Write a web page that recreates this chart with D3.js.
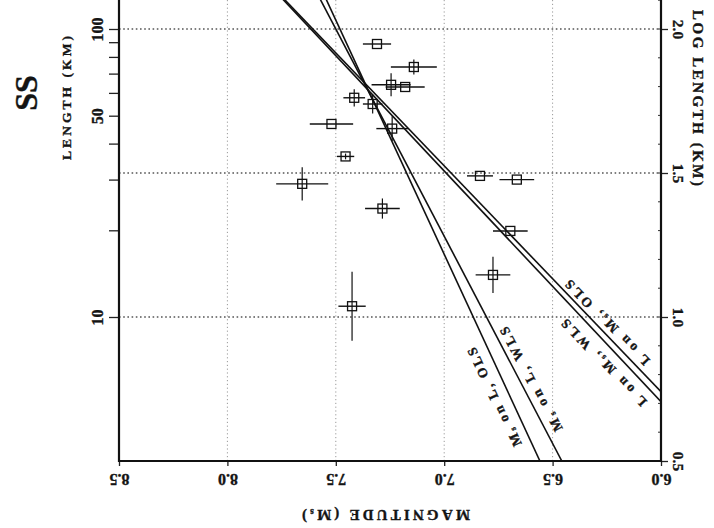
<!DOCTYPE html>
<html>
<head>
<meta charset="utf-8">
<script src="https://cdn.jsdelivr.net/npm/d3@7"></script>
<style>
  html, body { margin: 0; padding: 0; background: #fff; }
  svg { display: block; }
  text { font-family: "Liberation Serif", "DejaVu Serif", serif; font-weight: bold; fill: #141414;
         stroke: #141414; stroke-width: 0.35px; }
</style>
</head>
<body>
<svg id="chart" width="714" height="528"></svg>
<script>
// Strike-slip (SS) events: surface rupture length vs. surface-wave magnitude
const magnitude      = [7.31, 7.14, 7.245, 7.18, 7.415, 7.33, 7.52, 7.24, 7.455, 7.655, 7.285, 7.425, 6.835, 6.665, 6.695, 6.775];
const lengthKm       = [88.7, 73.8, 64.0, 62.9, 57.7, 54.9, 46.8, 45.1, 36.1, 29.0, 23.8, 10.9, 30.9, 30.0, 19.9, 14.0];
const magnitudeError = [0.065, 0.106, 0.09, 0.09, 0.05, 0.045, 0.10, 0.073, 0.04, 0.12, 0.08, 0.063, 0.06, 0.08, 0.08, 0.08];
const logLengthError = [0, 0.026, 0.04, 0, 0.03, 0.033, 0, 0.043, 0.01, 0.058, 0.035, 0.12, 0, 0, 0, 0.063];

// Regression fits. "LonM": log L = a + b*Ms ; "MonL": Ms = a + b*log L
const fitLabels    = ["L on Ms, OLS", "L on Ms, WLS", "Ms on L, OLS", "Ms on L, WLS"];
const fitKind      = ["LonM", "LonM", "MonL", "MonL"];
const fitIntercept = [-3.963, -4.10, 6.251, 6.11];
const fitSlope     = [0.784, 0.801, 0.615, 0.695];

// Axis ticks
const magnitudeTicks   = [6.0, 6.5, 7.0, 7.5, 8.0, 8.5];
const magnitudeGrid    = [6.5, 7.0, 7.5, 8.0];
const lengthTicks      = [10, 20, 30, 40, 50, 60, 70, 80, 90, 100];
const lengthTickLabels = [10, 50, 100];
const logLengthTicks   = [0.5, 1.0, 1.5, 2.0];
const logLengthGrid    = [1.0, 1.5, 2.0];

const svg = d3.select("#chart");

// Plot frame: magnitude decreases left to right; the upper part runs past the top edge
const left = 119, right = 661, bottom = 461, perHalfDecade = 144;
const x = d3.scaleLinear().domain([8.5, 6.0]).range([left, right]);
const yLog = d3.scaleLinear().domain([0.5, 2.5]).range([bottom, bottom - 4 * perHalfDecade]);
const yLen = d3.scaleLog().domain([Math.pow(10, 0.5), Math.pow(10, 2.5)]).range(yLog.range());

svg.append("defs").append("clipPath").attr("id", "plotClip")
  .append("rect").attr("x", left).attr("y", -300).attr("width", right - left).attr("height", bottom + 300);

// Grid
svg.append("g").selectAll("line").data(magnitudeGrid).join("line")
  .attr("x1", d => x(d)).attr("x2", d => x(d))
  .attr("y1", bottom).attr("y2", 0)
  .attr("stroke", "#9a9a9a").attr("stroke-width", 1).attr("stroke-dasharray", "1.2,2.6");
svg.append("g").selectAll("line").data(logLengthGrid).join("line")
  .attr("x1", left).attr("x2", right)
  .attr("y1", d => yLog(d)).attr("y2", d => yLog(d))
  .attr("stroke", "#555").attr("stroke-width", 1.3).attr("stroke-dasharray", "1.6,2.6");

// Axes
const leftAxis = d3.axisLeft(yLen).tickValues(lengthTicks).tickSize(10)
  .tickFormat(d => lengthTickLabels.includes(d) ? String(d) : "");
const gL = svg.append("g").attr("transform", `translate(${left},0)`).call(leftAxis);
gL.select(".domain").remove();
gL.selectAll(".tick line").attr("stroke", "#222").attr("stroke-width", 1.3);
gL.selectAll(".tick text")
  .attr("x", 0).attr("dy", null).attr("dominant-baseline", "central").attr("text-anchor", "middle")
  .attr("font-size", 16).attr("fill", "#141414")
  .attr("transform", "translate(-22,0) rotate(-90)");

const rightAxis = d3.axisRight(yLog).tickValues(logLengthTicks).tickSize(7).tickFormat(d3.format(".1f"));
const gR = svg.append("g").attr("transform", `translate(${right},0)`).call(rightAxis);
gR.select(".domain").remove();
gR.selectAll(".tick line").attr("stroke", "#222").attr("stroke-width", 1.3);
gR.selectAll(".tick text")
  .attr("x", 0).attr("dy", null).attr("dominant-baseline", "central").attr("text-anchor", "middle")
  .attr("font-size", 15.5).attr("fill", "#141414")
  .attr("transform", "translate(17,0) rotate(90)");
// minor ticks every 0.1 on the log axis
svg.append("g").selectAll("line").data(d3.range(5, 25).map(v => v / 10)).join("line")
  .attr("x1", right - 3).attr("x2", right)
  .attr("y1", d => yLog(d)).attr("y2", d => yLog(d))
  .attr("stroke", "#333").attr("stroke-width", 1);

const bottomAxis = d3.axisBottom(x).tickValues(magnitudeTicks).tickSize(5).tickFormat(d3.format(".1f"));
const gB = svg.append("g").attr("transform", `translate(0,${bottom})`).call(bottomAxis);
gB.select(".domain").remove();
gB.selectAll(".tick line").attr("stroke", "#222").attr("stroke-width", 1.3);
gB.selectAll(".tick text")
  .attr("y", 0).attr("dy", null).attr("dominant-baseline", "central").attr("text-anchor", "middle")
  .attr("font-size", 16).attr("fill", "#141414")
  .attr("transform", "translate(0,18) rotate(180)");

// Frame lines
const frame = svg.append("g").attr("stroke", "#111").attr("stroke-width", 2.2).attr("fill", "none");
frame.append("line").attr("x1", left).attr("x2", left).attr("y1", bottom + 1).attr("y2", 0);
frame.append("line").attr("x1", right).attr("x2", right).attr("y1", bottom + 1).attr("y2", 0);
frame.append("line").attr("x1", left).attr("x2", right).attr("y1", bottom).attr("y2", bottom);

// Text helper: "Ms" is drawn with a subscript s
function richText(sel, str) {
  const parts = str.split("Ms");
  parts.forEach((p, i) => {
    if (i > 0) {
      sel.append("tspan").text("M");
      sel.append("tspan").attr("font-size", "0.62em").attr("dy", "0.32em").text("s");
      sel.append("tspan").attr("dy", "-0.32em").text(p);
    } else {
      sel.append("tspan").text(p);
    }
  });
}

// Fit lines
function fitPoint(i, t) {
  // t: magnitude for LonM fits, log length for MonL fits
  if (fitKind[i] === "LonM") return [x(t), yLog(fitIntercept[i] + fitSlope[i] * t)];
  return [x(fitIntercept[i] + fitSlope[i] * t), yLog(t)];
}
const fitGroup = svg.append("g").attr("clip-path", "url(#plotClip)");
fitLabels.forEach((name, i) => {
  const ends = fitKind[i] === "LonM" ? [6.0, 8.5] : [0.5, 2.5];
  const a = fitPoint(i, ends[0]), b = fitPoint(i, ends[1]);
  fitGroup.append("line")
    .attr("x1", a[0]).attr("y1", a[1]).attr("x2", b[0]).attr("y2", b[1])
    .attr("stroke", "#111").attr("stroke-width", 1.6);
});

// Fit labels, set alongside each line
const labelAt     = [6.278, 6.213, 0.743, 0.767];   // position along each fit
const labelOffset = [9.4, -14.6, -14.0, 11.0];      // px, positive toward upper right
const labelLength = [114, 116, 108, 117];
fitLabels.forEach((name, i) => {
  const p = fitPoint(i, labelAt[i]);
  const span = fitKind[i] === "LonM" ? [6.0, 8.5] : [0.5, 2.5];
  const a = fitPoint(i, span[0]), b = fitPoint(i, span[1]);
  let dx = b[0] - a[0], dy = b[1] - a[1];
  const len = Math.hypot(dx, dy);
  dx /= len; dy /= len;
  // direction pointing down-right
  if (dx < 0) { dx = -dx; dy = -dy; }
  const nx = dy, ny = -dx;             // normal pointing up-right
  const cx = p[0] + nx * labelOffset[i], cy = p[1] + ny * labelOffset[i];
  const angle = Math.atan2(-dy, -dx) * 180 / Math.PI;
  const t = svg.append("text")
    .attr("transform", `translate(${cx},${cy}) rotate(${angle})`)
    .attr("text-anchor", "middle").attr("dominant-baseline", "central")
    .attr("font-size", 13.5).attr("textLength", labelLength[i]).attr("lengthAdjust", "spacing");
  richText(t, name);
});

// Data: error bars and square markers
const pts = svg.append("g").attr("clip-path", "url(#plotClip)")
  .selectAll("g").data(magnitude.map((m, i) => i)).join("g");
pts.append("line")
  .attr("x1", i => x(magnitude[i] + magnitudeError[i])).attr("x2", i => x(magnitude[i] - magnitudeError[i]))
  .attr("y1", i => yLen(lengthKm[i])).attr("y2", i => yLen(lengthKm[i]))
  .attr("stroke", "#111").attr("stroke-width", 1.4);
pts.filter(i => logLengthError[i] > 0).append("line")
  .attr("x1", i => x(magnitude[i])).attr("x2", i => x(magnitude[i]))
  .attr("y1", i => yLog(Math.log10(lengthKm[i]) + logLengthError[i]))
  .attr("y2", i => yLog(Math.log10(lengthKm[i]) - logLengthError[i]))
  .attr("stroke", "#111").attr("stroke-width", 1.2);
pts.append("rect")
  .attr("x", i => x(magnitude[i]) - 4.5).attr("y", i => yLen(lengthKm[i]) - 4.5)
  .attr("width", 9).attr("height", 9)
  .attr("fill", "none").attr("stroke", "#111").attr("stroke-width", 1.3);

// Axis titles
svg.append("text").attr("transform", "translate(26,93) rotate(-90)")
  .attr("text-anchor", "middle").attr("dominant-baseline", "central")
  .attr("font-size", 32).attr("font-weight", "normal").attr("stroke-width", 0.6).text("SS");
svg.append("text").attr("transform", "translate(66,98) rotate(-90)")
  .attr("text-anchor", "middle").attr("dominant-baseline", "central")
  .attr("font-size", 13.5).attr("textLength", 124).attr("lengthAdjust", "spacing")
  .text("LENGTH (KM)");
svg.append("text").attr("transform", "translate(698,98) rotate(90)")
  .attr("text-anchor", "middle").attr("dominant-baseline", "central")
  .attr("font-size", 15).attr("textLength", 176).attr("lengthAdjust", "spacing")
  .text("LOG LENGTH (KM)");
const magTitle = svg.append("text").attr("transform", "translate(386,515) rotate(180)")
  .attr("text-anchor", "middle").attr("dominant-baseline", "central")
  .attr("font-size", 15).attr("textLength", 168).attr("lengthAdjust", "spacing");
magTitle.append("tspan").text("MAGNITUDE (M");
magTitle.append("tspan").attr("font-size", "0.62em").attr("dy", "0.32em").text("s");
magTitle.append("tspan").attr("dy", "-0.32em").text(")");
</script>
</body>
</html>
